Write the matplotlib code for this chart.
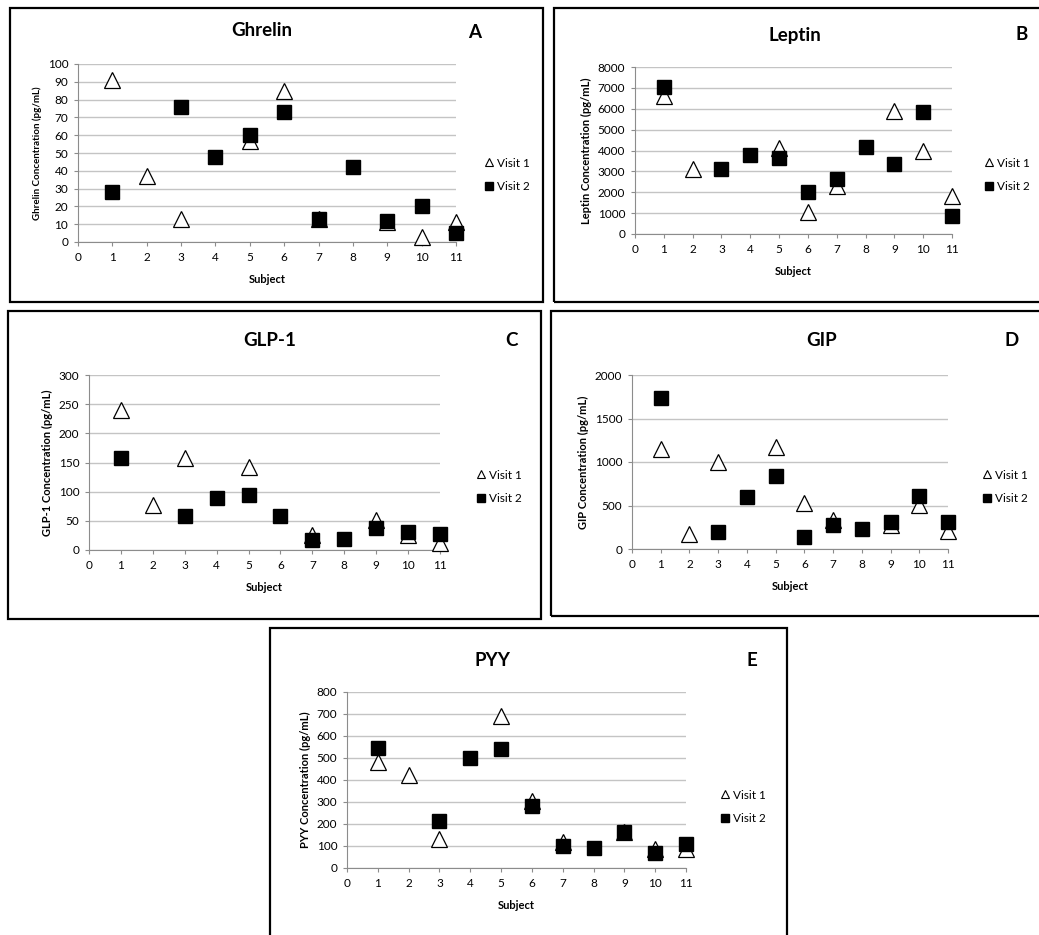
import matplotlib
import numpy as np

matplotlib.use("agg")

from matplotlib import pyplot as plt
from matplotlib.patches import Rectangle
from matplotlib.lines import Line2D

plt.rcParams["font.family"] = ["Lato", "DejaVu Sans"]

W, H = 1039, 935

subjects = list(range(1, 12))

# Visit 1 / Visit 2 values per hormone (None = no point shown)
ghrelin_v1 = [91, 37, 13, None, 57, 85, 13, None, 11, 3, 11]
ghrelin_v2 = [28, None, 76, 48, 60, 73, 13, 42, 12, 20, 5]

leptin_v1 = [6600, 3100, None, None, 4100, 1050, 2300, None, 5900, 4000, 1800]
leptin_v2 = [7050, None, 3100, 3800, 3650, 2000, 2650, 4150, 3350, 5850, 850]

glp1_v1 = [240, 77, 157, None, 143, None, 25, None, 52, 25, 12]
glp1_v2 = [157, None, 58, 90, 94, 58, 18, 19, 38, 31, 27]

gip_v1 = [1150, 170, 1000, None, 1170, 530, 330, None, 280, 510, 210]
gip_v2 = [1740, None, 200, 600, 840, 140, 280, 230, 310, 610, 310]

pyy_v1 = [480, 425, 130, None, 690, 305, 120, None, 165, 85, 85]
pyy_v2 = [545, None, 215, 500, 540, 280, 100, 92, 165, 68, 108]


def fx(x):
    return x / W


def fy(y):
    return 1 - y / H


fig = plt.figure(figsize=(W / 100, H / 100), dpi=100)


def box(x0, y0, x1, y1):
    r = Rectangle((fx(x0), fy(y1)), fx(x1) - fx(x0), fy(y0) - fy(y1),
                  transform=fig.transFigure, fill=False, lw=1.6,
                  edgecolor="black")
    fig.add_artist(r)


def panel(rect, v1, v2, ymax, ystep, title, letter, ylabel, ylab_size,
          title_xy, letter_xy, legend_xy):
    x0, x1, ytop, ybot = rect
    ax = fig.add_axes([fx(x0), fy(ybot), fx(x1) - fx(x0), fy(ytop) - fy(ybot)])
    xs1 = [s for s, v in zip(subjects, v1) if v is not None]
    ys1 = [v for v in v1 if v is not None]
    xs2 = [s for s, v in zip(subjects, v2) if v is not None]
    ys2 = [v for v in v2 if v is not None]
    ax.plot(xs1, ys1, "^", ms=11, mfc="white", mec="black", mew=0.9,
            clip_on=False, zorder=3)
    ax.plot(xs2, ys2, "s", ms=10, mfc="black", mec="black",
            clip_on=False, zorder=4)
    ax.set_xlim(0, 11)
    ax.set_ylim(0, ymax)
    ax.set_xticks(range(0, 12))
    ax.set_yticks(np.arange(0, ymax + 1, ystep))
    ax.yaxis.grid(True, color="#c4c4c4", lw=1.0)
    ax.set_axisbelow(True)
    for s in ["top", "right"]:
        ax.spines[s].set_visible(False)
    for s in ["left", "bottom"]:
        ax.spines[s].set_color("#8c8c8c")
    ax.tick_params(axis="both", labelsize=8.5, color="#8c8c8c", length=3,
                   pad=4)
    ax.set_xlabel("Subject", fontsize=8, fontweight="bold", labelpad=8)
    ax.set_ylabel(ylabel, fontsize=ylab_size, fontweight="bold", labelpad=4)
    fig.text(fx(title_xy[0]), fy(title_xy[1]), title, fontsize=13.5,
             fontweight="bold", ha="center", va="center")
    fig.text(fx(letter_xy[0]), fy(letter_xy[1]), letter, fontsize=13.5,
             fontweight="bold", ha="center", va="center")
    handles = [
        Line2D([], [], ls="none", marker="^", ms=5.5, mfc="white",
               mec="black", mew=0.8, label="Visit 1"),
        Line2D([], [], ls="none", marker="s", ms=5.5, mfc="black",
               mec="black", label="Visit 2"),
    ]
    ax.legend(handles=handles, loc="center left",
              bbox_to_anchor=(fx(legend_xy[0]), fy(legend_xy[1])),
              bbox_transform=fig.transFigure, frameon=False, fontsize=8.5,
              handlelength=0.6, handletextpad=0.3, labelspacing=1.1,
              borderpad=0)
    return ax


box(10, 8, 543, 302)
box(554, 8, 1045, 302)
box(8, 311, 541, 619)
box(551, 311, 1045, 616)
box(270, 628, 787, 940)

panel((78, 456, 64, 242), ghrelin_v1, ghrelin_v2, 100, 10, "Ghrelin", "A",
      "Ghrelin Concentration (pg/mL)", 7, (262, 31), (475, 32), (480, 175))
panel((635, 952, 67, 234), leptin_v1, leptin_v2, 8000, 1000, "Leptin", "B",
      "Leptin Concentration (pg/mL)", 8, (795, 35), (1022, 35), (980, 175))
panel((89, 440, 375, 550), glp1_v1, glp1_v2, 300, 50, "GLP-1", "C",
      "GLP-1 Concentration (pg/mL)", 8, (270, 340), (511, 340), (472, 487))
panel((632, 948, 375, 549), gip_v1, gip_v2, 2000, 500, "GIP", "D",
      "GIP Concentration (pg/mL)", 8, (822, 340), (1012, 340), (978, 487))
panel((347, 686, 692, 868), pyy_v1, pyy_v2, 800, 100, "PYY", "E",
      "PYY Concentration (pg/mL)", 8, (493, 660), (752, 660), (716, 807))

fig.savefig("out.png", dpi=100)
plt.close()
